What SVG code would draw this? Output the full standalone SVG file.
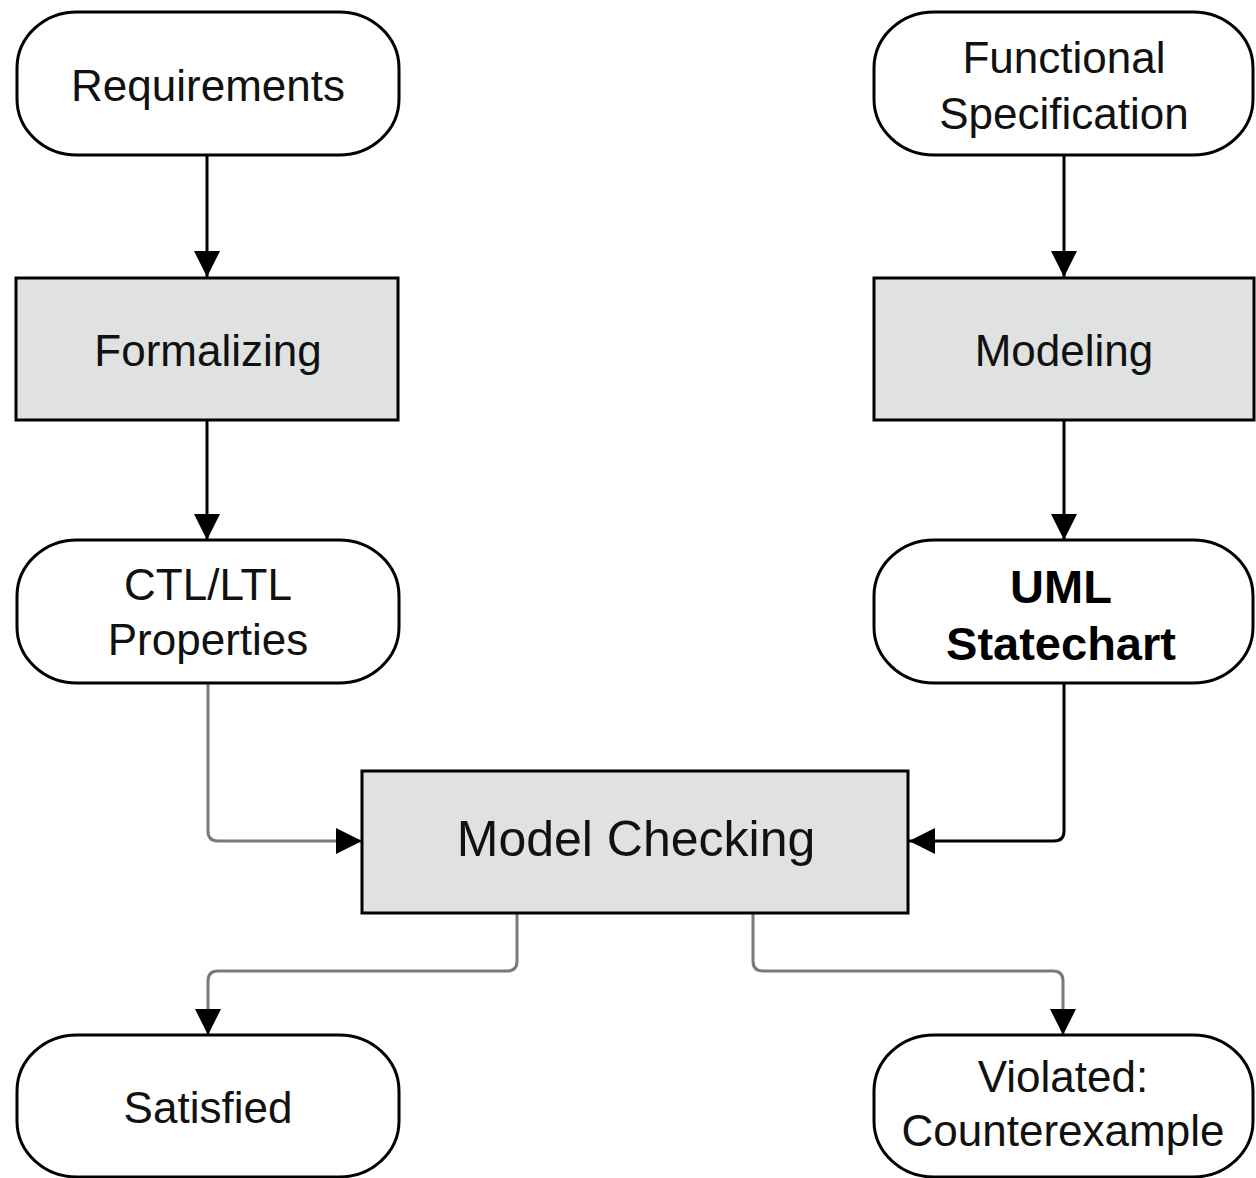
<svg xmlns="http://www.w3.org/2000/svg" width="1256" height="1178" viewBox="0 0 1256 1178">
<defs>
<style>
.term{fill:#fff;stroke:#000;stroke-width:3}
.proc{fill:#e0e2e1;stroke:#000;stroke-width:3}
.t{font-family:"Liberation Sans",Arial,sans-serif;font-size:44px;fill:#111;text-anchor:middle}
.b{font-weight:bold;font-size:47px;fill:#000}
.mc{font-size:50px}
.c{fill:none;stroke:#000;stroke-width:3}
.g{fill:none;stroke:#7a7a7a;stroke-width:3}
</style>
<marker id="ah" viewBox="0 0 10 10" refX="10" refY="5" markerWidth="9" markerHeight="9" markerUnits="userSpaceOnUse" orient="auto">
<path d="M0,0 L10,5 L0,10 Z" fill="#000"/>
</marker>
<marker id="a" viewBox="0 0 26 26" refX="26" refY="13" markerWidth="26" markerHeight="26" markerUnits="userSpaceOnUse" orient="auto">
<path d="M0,0 L26,13 L0,26 Z" fill="#000"/>
</marker>
</defs>
<rect width="1256" height="1178" fill="#fff"/>
<g id="connectors">
<path class="c" d="M207,155 V277" marker-end="url(#a)"/>
<path class="c" d="M207,420 V540" marker-end="url(#a)"/>
<path class="c" d="M1064,155 V277" marker-end="url(#a)"/>
<path class="c" d="M1064,420 V540" marker-end="url(#a)"/>
<path class="g" d="M208,683 V831 Q208,841 218,841 H362" marker-end="url(#a)"/>
<path class="c" d="M1064,683 V831 Q1064,841 1054,841 H909" marker-end="url(#a)"/>
<path class="g" d="M517,913 V961 Q517,971 507,971 H218 Q208,971 208,981 V1035" marker-end="url(#a)"/>
<path class="g" d="M753,913 V961 Q753,971 763,971 H1053 Q1063,971 1063,981 V1035" marker-end="url(#a)"/>
</g>
<g id="requirements">
<rect class="term" x="17" y="12" width="382" height="143" rx="60" ry="56"/>
<text class="t" x="208" y="101">Requirements</text>
</g>
<g id="formalizing">
<rect class="proc" x="16" y="278" width="382" height="142"/>
<text class="t" x="208" y="366">Formalizing</text>
</g>
<g id="properties">
<rect class="term" x="17" y="540" width="382" height="143" rx="60" ry="56"/>
<text class="t" x="208" y="600">CTL/LTL</text>
<text class="t" x="208" y="655">Properties</text>
</g>
<g id="functional-specification">
<rect class="term" x="874" y="12" width="379" height="143" rx="60" ry="56"/>
<text class="t" x="1064" y="73">Functional</text>
<text class="t" x="1064" y="129">Specification</text>
</g>
<g id="modeling">
<rect class="proc" x="874" y="278" width="380" height="142"/>
<text class="t" x="1064" y="366">Modeling</text>
</g>
<g id="uml-statechart">
<rect class="term" x="874" y="540" width="379" height="143" rx="60" ry="56"/>
<text class="t b" x="1061" y="603">UML</text>
<text class="t b" x="1061" y="660">Statechart</text>
</g>
<g id="model-checking">
<rect class="proc" x="362" y="771" width="546" height="142"/>
<text class="t mc" x="636" y="856">Model Checking</text>
</g>
<g id="satisfied">
<rect class="term" x="17" y="1035" width="382" height="142" rx="60" ry="56"/>
<text class="t" x="208" y="1123">Satisfied</text>
</g>
<g id="violated">
<rect class="term" x="874" y="1035" width="379" height="142" rx="60" ry="56"/>
<text class="t" x="1063" y="1092">Violated:</text>
<text class="t" x="1063" y="1146">Counterexample</text>
</g>
</svg>
